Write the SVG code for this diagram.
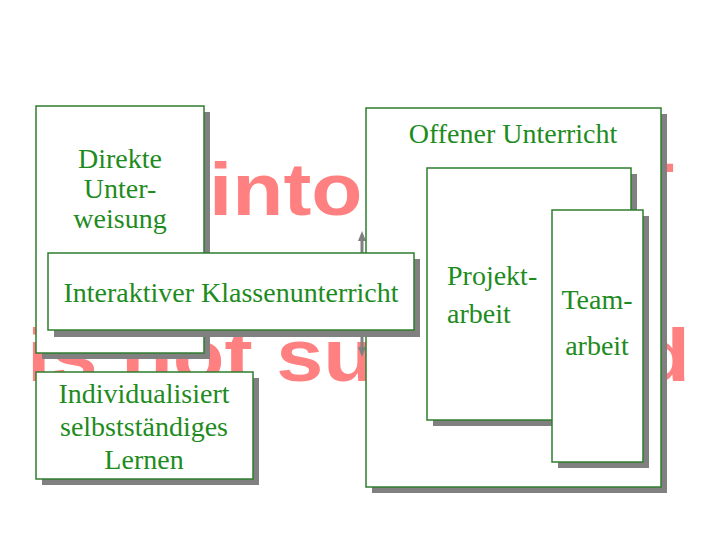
<svg xmlns="http://www.w3.org/2000/svg" width="720" height="540" viewBox="0 0 720 540">
<defs>
<style>
.wm{font-family:"Liberation Sans",Arial,sans-serif;font-weight:bold;font-size:74px;fill:#FF8080}
.sh{fill:#808080}
.bx{fill:#ffffff;stroke:#2E7D2E;stroke-width:1.5}
.t{font-family:"Liberation Serif","Times New Roman",serif;font-size:28px;fill:#1E8B1E}
.c{text-anchor:middle}
.ar{stroke:#808080;stroke-width:3;fill:none}
</style>
<marker id="ah" viewBox="0 0 10 8" refX="2" refY="4" markerWidth="10" markerHeight="8" markerUnits="userSpaceOnUse" orient="auto-start-reverse">
<path d="M0,0 L10,4 L0,8 z" fill="#808080"/>
</marker>
</defs>
<rect width="720" height="540" fill="#ffffff"/>
<g id="watermark">
<text class="wm" x="209" y="215" textLength="200" lengthAdjust="spacingAndGlyphs">intos</text>
<text class="wm" x="623" y="215" textLength="51" lengthAdjust="spacingAndGlyphs">T</text>
<text class="wm" x="27" y="381" textLength="348" lengthAdjust="spacingAndGlyphs">is not su</text>
<text class="wm" x="638" y="381" textLength="52" lengthAdjust="spacingAndGlyphs">d</text>
</g>
<g id="connectors">
<line class="ar" x1="362" y1="239" x2="362" y2="349" marker-start="url(#ah)" marker-end="url(#ah)"/>
</g>
<g id="direkte">
<rect class="sh" x="42" y="112" width="168" height="247"/>
<rect class="bx" x="36" y="106" width="168" height="247"/>
<text class="t c" x="120" y="168">Direkte</text>
<text class="t c" x="120" y="198">Unter-</text>
<text class="t c" x="120" y="228">weisung</text>
</g>
<g id="offener">
<rect class="sh" x="372" y="114" width="295" height="379"/>
<rect class="bx" x="366" y="108" width="295" height="379"/>
<text class="t c" x="513" y="143">Offener Unterricht</text>
</g>
<g id="projekt">
<rect class="sh" x="433" y="174" width="204" height="252"/>
<rect class="bx" x="427" y="168" width="204" height="252"/>
<text class="t" x="447" y="285">Projekt-</text>
<text class="t" x="447" y="323">arbeit</text>
</g>
<g id="team">
<rect class="sh" x="558" y="216" width="91" height="252"/>
<rect class="bx" x="552" y="210" width="91" height="252"/>
<text class="t c" x="597" y="309">Team-</text>
<text class="t c" x="597" y="355">arbeit</text>
</g>
<g id="interaktiv">
<rect class="sh" x="54" y="259" width="366" height="78"/>
<rect class="bx" x="48" y="253" width="366" height="77"/>
<text class="t c" x="231" y="302">Interaktiver Klassenunterricht</text>
</g>
<g id="individual">
<rect class="sh" x="42" y="378" width="217" height="107"/>
<rect class="bx" x="36" y="372" width="217" height="107"/>
<text class="t c" x="144" y="403">Individualisiert</text>
<text class="t c" x="144" y="436">selbstständiges</text>
<text class="t c" x="144" y="469">Lernen</text>
</g>
</svg>
